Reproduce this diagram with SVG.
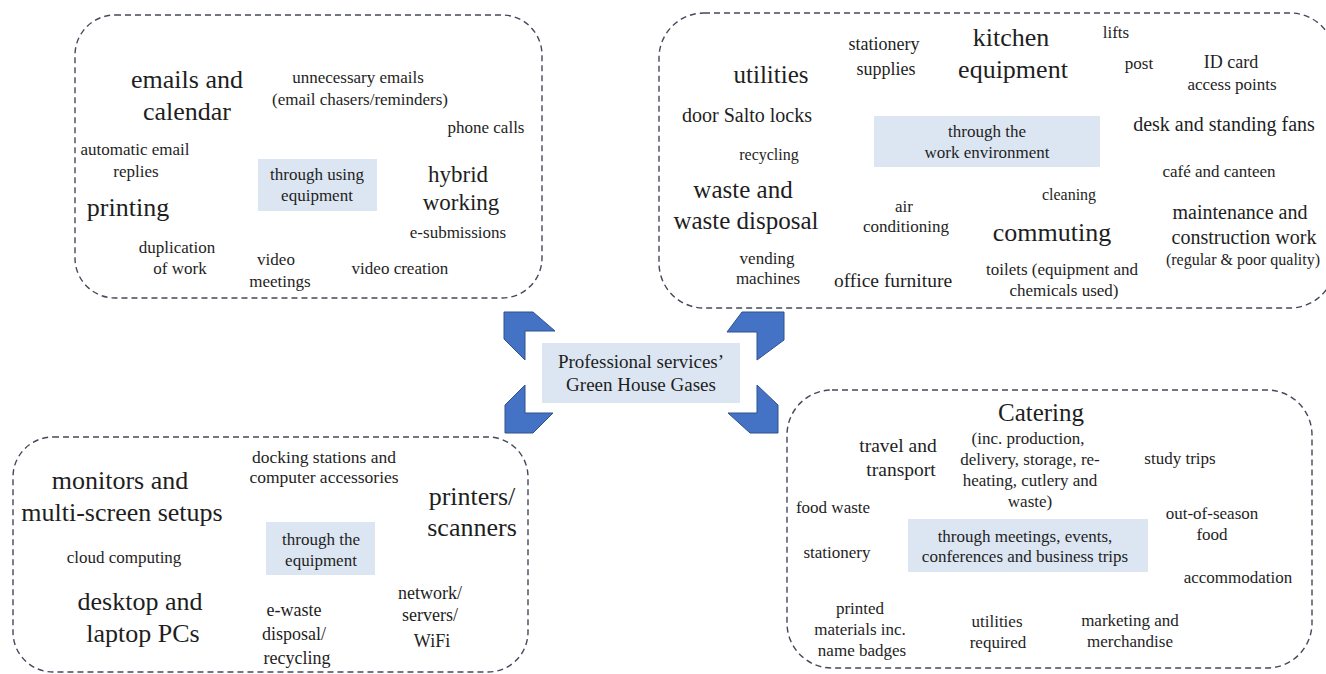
<svg xmlns="http://www.w3.org/2000/svg" width="1326" height="674" viewBox="0 0 1326 674">
<style>
text{font-family:"Liberation Serif","Times New Roman",serif;fill:#1e1e1e;text-anchor:middle}
.b{font-size:26px}
.m{font-size:20px}
.s{font-size:17px}
.t{font-size:16px}
.box{fill:none;stroke:#44485a;stroke-width:1.4;stroke-dasharray:6 4}
.hl{fill:#dce6f2}
.arr{fill:#4472c4;stroke:#2f528f;stroke-width:1}
</style>
<rect width="1326" height="674" fill="#ffffff"/>

<g id="center">
<rect class="hl" x="542" y="343" width="198" height="60"/>
<text class="m" x="641" y="368" style="font-size:19px">Professional services’</text>
<text class="m" x="641" y="391" style="font-size:19px">Green House Gases</text>
</g>

<g id="connectors">
<polygon class="arr" points="504,312 533,312 555,331 525,331 525,360 504,339"/>
<polygon class="arr" points="784,312 784,340 757,360 757,332 727,332 742,312"/>
<polygon class="arr" points="525,385 525,413 553,413 533,433 505,433 505,405"/>
<polygon class="arr" points="757,385 778,405 778,433 750,433 728,413 757,413"/>
</g>

<g id="equipment-use">
<rect class="box" x="75" y="15" width="467" height="283" rx="40"/>
<rect class="hl" x="258" y="159" width="119" height="52"/>
<text class="s" x="317" y="180">through using</text>
<text class="s" x="317" y="201">equipment</text>
<text class="b" x="187" y="88">emails and</text>
<text class="b" x="187" y="120">calendar</text>
<text class="s" x="358" y="83">unnecessary emails</text>
<text class="s" x="360" y="105">(email chasers/reminders)</text>
<text class="s" x="486" y="133">phone calls</text>
<text class="s" x="135" y="155">automatic email</text>
<text class="s" x="136" y="177">replies</text>
<text class="b" x="458" y="182" style="font-size:23px">hybrid</text>
<text class="b" x="461" y="210" style="font-size:23px">working</text>
<text class="b" x="128" y="216">printing</text>
<text class="s" x="458" y="238">e-submissions</text>
<text class="s" x="177" y="253">duplication</text>
<text class="s" x="180" y="274">of work</text>
<text class="s" x="276" y="265">video</text>
<text class="s" x="280" y="287">meetings</text>
<text class="s" x="400" y="274">video creation</text>
</g>

<g id="work-environment">
<rect class="box" x="659" y="13" width="676" height="295" rx="45"/>
<rect class="hl" x="874" y="116" width="226" height="51"/>
<text class="s" x="987" y="137">through the</text>
<text class="s" x="987" y="158">work environment</text>
<text class="b" x="771" y="83" style="font-size:25px">utilities</text>
<text class="s" x="884" y="50" style="font-size:18px">stationery</text>
<text class="s" x="886" y="75" style="font-size:18px">supplies</text>
<text class="b" x="1011" y="46">kitchen</text>
<text class="b" x="1013" y="78">equipment</text>
<text class="s" x="1116" y="38">lifts</text>
<text class="s" x="1139" y="69">post</text>
<text class="s" x="1231" y="68" style="font-size:18px">ID card</text>
<text class="s" x="1232" y="90">access points</text>
<text class="m" x="747" y="122">door Salto locks</text>
<text class="m" x="1224" y="131">desk and standing fans</text>
<text class="t" x="769" y="160">recycling</text>
<text class="s" x="1219" y="177">café and canteen</text>
<text class="b" x="743" y="198" style="font-size:25px">waste and</text>
<text class="b" x="746" y="229" style="font-size:25px">waste disposal</text>
<text class="t" x="1069" y="200">cleaning</text>
<text class="s" x="904" y="212">air</text>
<text class="s" x="906" y="232">conditioning</text>
<text class="b" x="1052" y="241">commuting</text>
<text class="m" x="1240" y="219">maintenance and</text>
<text class="m" x="1244" y="244">construction work</text>
<text class="t" x="1243" y="265">(regular &amp; poor quality)</text>
<text class="s" x="767" y="264">vending</text>
<text class="s" x="768" y="284">machines</text>
<text class="m" x="893" y="287" style="font-size:19.5px">office furniture</text>
<text class="s" x="1062" y="275">toilets (equipment and</text>
<text class="s" x="1064" y="296">chemicals used)</text>
</g>

<g id="the-equipment">
<rect class="box" x="13" y="437" width="515" height="235" rx="40"/>
<rect class="hl" x="266" y="522" width="109" height="53"/>
<text class="s" x="321" y="545">through the</text>
<text class="s" x="321" y="566">equipment</text>
<text class="s" x="324" y="463" style="font-size:17.5px">docking stations and</text>
<text class="s" x="324" y="483" style="font-size:17.5px">computer accessories</text>
<text class="b" x="120" y="489">monitors and</text>
<text class="b" x="122" y="521">multi-screen setups</text>
<text class="b" x="472" y="505">printers/</text>
<text class="b" x="472" y="536">scanners</text>
<text class="s" x="124" y="563">cloud computing</text>
<text class="b" x="140" y="610">desktop and</text>
<text class="b" x="143" y="642">laptop PCs</text>
<text class="s" x="430" y="599" style="font-size:18px">network/</text>
<text class="s" x="430" y="621" style="font-size:18px">servers/</text>
<text class="s" x="432" y="647" style="font-size:18px">WiFi</text>
<text class="s" x="294" y="616" style="font-size:18px">e-waste</text>
<text class="s" x="294" y="640" style="font-size:18px">disposal/</text>
<text class="s" x="297" y="664" style="font-size:18px">recycling</text>
</g>

<g id="meetings-events">
<rect class="box" x="787" y="390" width="525" height="278" rx="45"/>
<rect class="hl" x="908" y="519" width="240" height="53"/>
<text class="s" x="1025" y="542">through meetings, events,</text>
<text class="s" x="1025" y="562">conferences and business trips</text>
<text class="b" x="1041" y="421" style="font-size:25px">Catering</text>
<text class="m" x="898" y="452" style="font-size:19.5px">travel and</text>
<text class="m" x="901" y="476" style="font-size:19.5px">transport</text>
<text class="s" x="1028" y="444">(inc. production,</text>
<text class="s" x="1030" y="465">delivery, storage, re-</text>
<text class="s" x="1030" y="486">heating, cutlery and</text>
<text class="s" x="1030" y="507">waste)</text>
<text class="s" x="1180" y="464">study trips</text>
<text class="s" x="833" y="513">food waste</text>
<text class="s" x="1212" y="519">out-of-season</text>
<text class="s" x="1212" y="540">food</text>
<text class="s" x="837" y="558">stationery</text>
<text class="s" x="1238" y="583">accommodation</text>
<text class="s" x="860" y="614">printed</text>
<text class="s" x="860" y="635">materials inc.</text>
<text class="s" x="862" y="656">name badges</text>
<text class="s" x="997" y="627">utilities</text>
<text class="s" x="998" y="648">required</text>
<text class="s" x="1130" y="626">marketing and</text>
<text class="s" x="1130" y="647">merchandise</text>
</g>
</svg>
